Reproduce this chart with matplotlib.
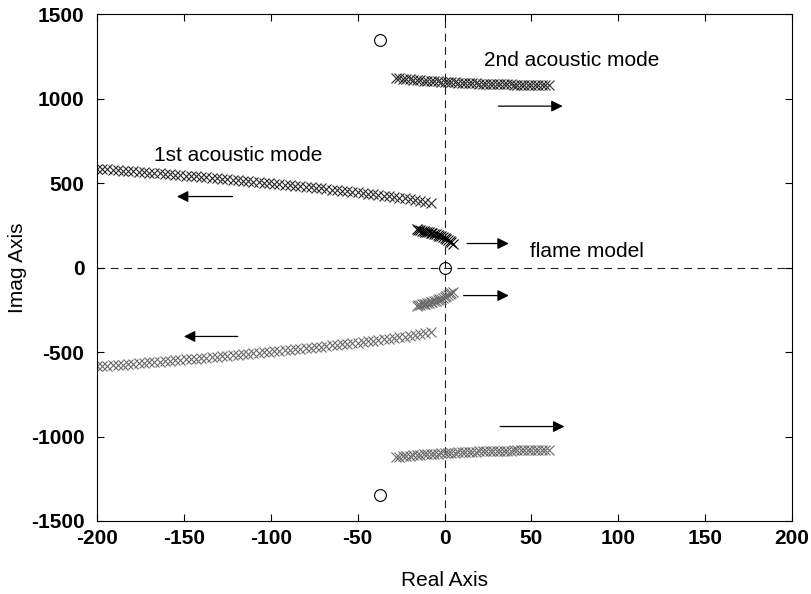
import matplotlib
matplotlib.use("Agg")
import matplotlib.pyplot as plt
import numpy as np

plt.rcParams['font.family'] = ['Liberation Sans', 'DejaVu Sans']
plt.rcParams['axes.unicode_minus'] = False

# 1st acoustic mode (upper branch; lower branch is complex conjugate)
mode1_re = [-200, -197, -194, -191, -188, -185, -182, -179, -176, -173, -170, -167, -164,
            -161, -158, -155, -152, -149, -146, -143, -140, -137, -134, -131, -128, -125,
            -122, -119, -116, -113, -110, -107, -104, -101, -98, -95, -92, -89, -86, -83,
            -80, -77, -74, -71, -68, -65, -62, -59, -56, -53, -50, -47, -44, -41, -38,
            -35, -32, -29, -26, -23, -20, -17, -14, -11, -8]
mode1_im = [585, 583, 580, 578, 576, 574, 571, 569, 567, 564, 562, 559, 557,
            554, 552, 549, 547, 544, 541, 539, 536, 533, 530, 528, 525, 522,
            519, 516, 513, 510, 507, 505, 502, 499, 496, 493, 490, 486, 483, 480,
            477, 474, 471, 468, 464, 461, 458, 455, 451, 448, 445, 441, 437, 433, 429,
            425, 421, 417, 413, 409, 404, 398, 392, 386, 380]

# 2nd acoustic mode (upper branch)
mode2_re = [-28, -26, -24, -22, -20, -18, -16, -14, -12, -10, -8, -6, -4, -2, 0, 2, 4, 6,
            8, 10, 12, 14, 16, 18, 20, 22, 24, 26, 28, 30, 32, 34, 36, 38, 40, 42, 44,
            46, 48, 50, 52, 54, 56, 58, 60]
mode2_im = [1122, 1120, 1117, 1115, 1113, 1111, 1110, 1108, 1106, 1105, 1104, 1102, 1101,
            1100, 1099, 1098, 1096, 1095, 1094, 1093, 1092, 1091, 1090, 1089, 1088, 1087,
            1087, 1086, 1085, 1085, 1084, 1084, 1083, 1083, 1082, 1082, 1081, 1081, 1080,
            1080, 1080, 1079, 1079, 1078, 1078]

# flame model branch (upper)
flame_re = [-16, -15, -14, -13, -12, -11, -10, -9, -8, -7, -6, -5, -4, -3, -2, -1, 0, 1, 2, 3, 4, 5]
flame_im = [225, 223, 221, 218, 216, 213, 211, 208, 206, 203, 200, 197, 193, 189, 185, 181,
            176, 170, 164, 157, 150, 142]

# zeros
zeros_re = [-37, -37, 0]
zeros_im = [1348, -1348, 0]

# arrows: (x_start, y_start, x_end, y_end)
arrows = [(31, 955, 68, 955), (-122, 420, -154, 420), (13, 142, 37, 142),
          (11, -166, 37, -166), (-119, -408, -150, -408), (32, -941, 69, -941)]

# labels: (text, x, y)
labels = [("2nd acoustic mode", 23, 1225), ("1st acoustic mode", -167, 665),
          ("flame model", 49, 92)]

fig = plt.figure(figsize=(8.11, 5.94), dpi=100)
ax = fig.add_axes([0.1196, 0.1229, 0.8570, 0.8535])

dark = '#2a2a2a'
grey = '#6a6a6a'
mk = dict(marker='x', linestyle='none', markersize=7, markeredgewidth=0.8)

ax.plot(mode1_re, mode1_im, color=dark, **mk)
ax.plot(mode1_re, -np.array(mode1_im), color=grey, **mk)
ax.plot(mode2_re, mode2_im, color=dark, **mk)
ax.plot(mode2_re, -np.array(mode2_im), color=grey, **mk)
ax.plot(flame_re, flame_im, color='black', **mk)
ax.plot(flame_re, -np.array(flame_im), color=grey, **mk)

ax.plot(zeros_re, zeros_im, linestyle='none', marker='o', markersize=8.5,
        markerfacecolor='none', markeredgecolor='black', markeredgewidth=0.8)

ax.axhline(0, color='#222222', linestyle=(0, (7, 5)), linewidth=0.8, zorder=0)
ax.axvline(0, color='#222222', linestyle=(0, (7, 5)), linewidth=0.8, zorder=0)

for x0, y0, x1, y1 in arrows:
    ax.annotate('', xy=(x1, y1), xytext=(x0, y0),
                arrowprops=dict(arrowstyle='-|>', color='black', lw=0.9,
                                mutation_scale=17, shrinkA=0, shrinkB=0))

for t, x, y in labels:
    ax.text(x, y, t, fontsize=15, ha='left', va='center')

ax.set_xlim(-200, 200)
ax.set_ylim(-1500, 1500)
ax.set_xticks([-200, -150, -100, -50, 0, 50, 100, 150, 200])
ax.set_yticks([-1500, -1000, -500, 0, 500, 1000, 1500])
ax.tick_params(direction='in', top=True, right=True, length=5, width=0.8,
               labelsize=15, pad=6)
ax.tick_params(axis='y', pad=9)
for lab in ax.get_xticklabels() + ax.get_yticklabels():
    lab.set_fontweight('bold')
for s in ax.spines.values():
    s.set_linewidth(0.8)

ax.set_xlabel('Real Axis', fontsize=15, labelpad=16)
ax.set_ylabel('Imag Axis', fontsize=15)
ax.yaxis.set_label_coords(-0.1, 0.5)

fig.savefig('out.png', dpi=100)
